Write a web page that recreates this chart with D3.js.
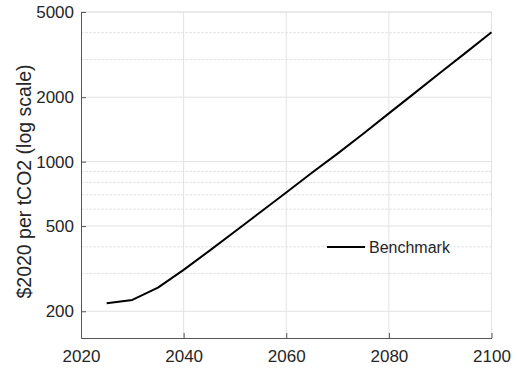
<!DOCTYPE html>
<html>
<head>
<meta charset="utf-8">
<script src="https://cdn.jsdelivr.net/npm/d3@7"></script>
<style>
  body { margin: 0; background: #fff; }
  svg { display: block; }
  text { font-family: "Liberation Sans", Arial, sans-serif; fill: #262626; }
</style>
</head>
<body>
<svg id="chart" width="517" height="371"></svg>
<script>
// ---- data ----
const years = [2025, 2030, 2035, 2040, 2045, 2050, 2055, 2060, 2065, 2070, 2075, 2080, 2085, 2090, 2095, 2100];
const benchmark = [218, 226, 258, 312, 383, 472, 582, 718, 888, 1090, 1350, 1680, 2090, 2600, 3230, 4020];
const seriesName = "Benchmark";
const xTicks = [2020, 2040, 2060, 2080, 2100];
const yTicks = [200, 500, 1000, 2000, 5000];
const yMinorGrid = [300, 400, 600, 700, 800, 900, 3000, 4000];
const yLabel = "$2020 per tCO2 (log scale)";

// ---- layout ----
const pLeft = 81, pRight = 491.5, pTop = 12, pBottom = 338;
const svg = d3.select("#chart");

const x = d3.scaleLinear().domain([2020, 2100]).range([pLeft, pRight]);
const y = d3.scaleLog().domain([150, 5000]).range([pBottom, pTop]);

// minor grid
svg.append("g").selectAll("line").data(yMinorGrid).join("line")
  .attr("x1", pLeft).attr("x2", pRight)
  .attr("y1", d => y(d)).attr("y2", d => y(d))
  .attr("stroke", "#e4e4e4").attr("stroke-width", 1)
  .attr("stroke-dasharray", "3,1");

// major grid
svg.append("g").selectAll("line").data(yTicks).join("line")
  .attr("x1", pLeft).attr("x2", pRight)
  .attr("y1", d => y(d)).attr("y2", d => y(d))
  .attr("stroke", "#e2e2e2").attr("stroke-width", 1);
svg.append("g").selectAll("line").data(xTicks.slice(1)).join("line")
  .attr("x1", d => x(d)).attr("x2", d => x(d))
  .attr("y1", pTop).attr("y2", pBottom)
  .attr("stroke", "#e2e2e2").attr("stroke-width", 1);

// top border
svg.append("line").attr("x1", pLeft).attr("x2", pRight).attr("y1", pTop).attr("y2", pTop)
  .attr("stroke", "#e2e2e2");

// axes (ticks inward)
const xAxis = d3.axisBottom(x).tickValues(xTicks).tickFormat(d3.format("d")).tickSizeInner(-5).tickSizeOuter(0).tickPadding(12);
const yAxis = d3.axisLeft(y).tickValues(yTicks).tickFormat(d3.format("d")).tickSizeInner(-5).tickSizeOuter(0).tickPadding(7);

const gx = svg.append("g").attr("transform", `translate(0,${pBottom})`).call(xAxis);
const gy = svg.append("g").attr("transform", `translate(${pLeft},0)`).call(yAxis);
[gx, gy].forEach(g => {
  g.attr("font-size", 17);
  g.select(".domain").attr("stroke", "#555").attr("stroke-width", 1);
  g.selectAll(".tick line").attr("stroke", "#555");
  g.selectAll(".tick text").attr("font-size", 17).attr("fill", "#262626");
});

// line
const line = d3.line().x((d, i) => x(years[i])).y(d => y(d));
svg.append("path").datum(benchmark)
  .attr("d", line)
  .attr("fill", "none").attr("stroke", "#000").attr("stroke-width", 2)
  .attr("stroke-linejoin", "round");

// legend
const lg = svg.append("g");
lg.append("line").attr("x1", 327).attr("x2", 365).attr("y1", 247).attr("y2", 247)
  .attr("stroke", "#000").attr("stroke-width", 2);
lg.append("text").attr("x", 369).attr("y", 247).attr("dy", "0.35em")
  .attr("font-size", 16).text(seriesName);

// y label
svg.append("text")
  .attr("transform", `translate(31,${(58 + 305) / 2}) rotate(-90)`)
  .attr("text-anchor", "middle")
  .attr("font-size", 19.5)
  .text(yLabel);
</script>
</body>
</html>
